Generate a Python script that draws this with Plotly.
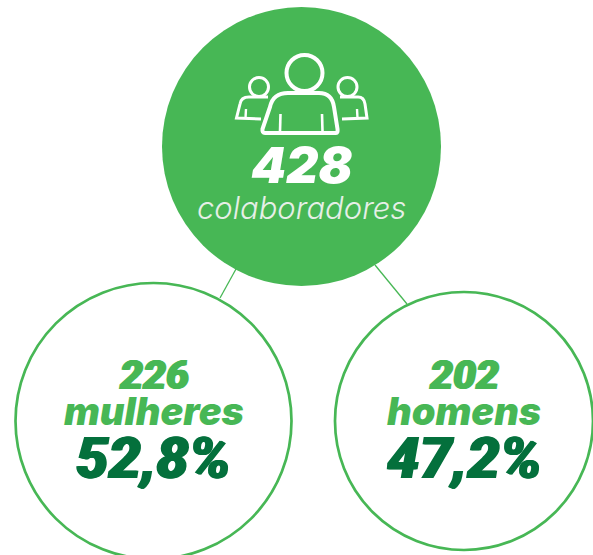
import plotly.graph_objects as go

total = 428
total_label = "colaboradores"
groups = ["mulheres", "homens"]
counts = [226, 202]
shares = ["52,8%", "47,2%"]

GREEN = "#47b755"
DARK = "#04703c"
W, H = 593, 555

fig = go.Figure()
def circle(cx, cy, r, **kw):
    fig.add_shape(type="circle", x0=cx-r, x1=cx+r, y0=cy-r, y1=cy+r, **kw)

fig.add_shape(type="line", x0=236, y0=269, x1=220, y1=298, line=dict(color=GREEN, width=1.3))
fig.add_shape(type="line", x0=375, y0=265, x1=407, y1=304, line=dict(color=GREEN, width=1.3))
circle(301.5, 146.5, 139.5, fillcolor=GREEN, line=dict(width=0))
circle(153.5, 421, 138, fillcolor="white", line=dict(color=GREEN, width=2.7))
circle(464, 421, 129, fillcolor="white", line=dict(color=GREEN, width=2.7))

# people icon
ic = dict(color="white", width=4)
circle(304.5, 73, 18, line=ic)
circle(259, 87, 9.5, line=dict(color="white", width=3))
circle(347.5, 87, 9.5, line=dict(color="white", width=3))
fig.add_shape(type="path", line=ic,
    path="M 265 133 L 336 133 Q 338 133 337.5 129 L 334 107 Q 332 93 319 93 L 288 93 Q 273 93 270 107 L 262.5 129 Q 262 133 265 133 Z")
fig.add_shape(type="path", line=dict(color="white", width=3),
    path="M 268 97 L 249 97 Q 241 97 240 104 L 236.5 118 L 261 119")
fig.add_shape(type="path", line=dict(color="white", width=3),
    path="M 340 97 L 358 97 Q 364 97 365 104 L 367 118 L 342 119")
for x0, y0, x1, y1, w in [(280.5,114,280,131,2.6),(322,114,322.5,131,2.6),(246,109,245.5,118,2.4),(357,109,357.5,118,2.4)]:
    fig.add_shape(type="line", x0=x0, y0=y0, x1=x1, y1=y1, line=dict(color="white", width=w))

def txt(x, y, s, size, color, weight, family="Inter", bold=0):
    f = dict(family=family, size=size, color=color, weight=weight, style="italic")
    if bold:
        f["shadow"] = ", ".join(f"{dx*bold}px {dy*bold}px 0 {color}" for dx, dy in [(1,0),(-1,0)])
    fig.add_annotation(x=x, y=y, text=s, showarrow=False, xanchor="center", yanchor="middle", font=f)

txt(301.5, 165, str(total), 50, "white", 900)
txt(301.5, 207, total_label, 31, "#e6efe7", 300)
centers = [153.5, 464]
for cx, g, c, s in zip(centers, groups, counts, shares):
    txt(cx, 375, str(c), 41, GREEN, 900, "Roboto", 1)
    txt(cx, 411, g, 38, GREEN, 900)
    txt(cx, 458, s, 58, DARK, 900, "Roboto", 1)

fig.update_layout(width=W, height=H, margin=dict(l=0, r=0, t=0, b=0), autosize=False,
    paper_bgcolor="white", plot_bgcolor="white", showlegend=False,
    xaxis=dict(range=[0, W], visible=False, fixedrange=True),
    yaxis=dict(range=[H, 0], visible=False, fixedrange=True))
fig.write_html("out.html", config=dict(displayModeBar=False),
               post_script="document.body.style.margin='0';")
